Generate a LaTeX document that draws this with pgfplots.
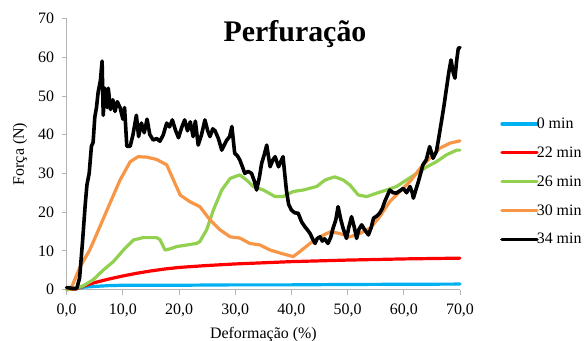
\documentclass[border=0pt]{standalone}
\usepackage{fontspec}
\setmainfont{Liberation Serif}
\usepackage{pgfplots}
\pgfplotsset{compat=1.18}
\definecolor{c0}{RGB}{0,176,240}
\definecolor{c22}{RGB}{255,0,0}
\definecolor{c26}{RGB}{146,208,80}
\definecolor{c30}{RGB}{247,150,70}
\definecolor{axgray}{RGB}{180,180,180}
\begin{document}
\begin{tikzpicture}
\path[use as bounding box] (0,0) rectangle (587bp,341bp);
\begin{axis}[
  at={(66.7bp,51.5bp)}, anchor=south west,
  scale only axis, width=393.3bp, height=271bp,
  xmin=0, xmax=70, ymin=0, ymax=70,
  xtick={0,10,...,70}, ytick={0,10,...,70},
  axis x line*=bottom, axis y line*=left,
  axis line style={draw=axgray, line width=0.8bp},
  tick style={draw=axgray, line width=0.8bp},
  tick align=outside, major tick length=5bp,
  /pgf/number format/assume math mode=true,
  tick label style={font=\fontsize{16}{19}\selectfont},
  xticklabel style={yshift=-6bp, /pgf/number format/.cd, fixed, fixed zerofill, precision=1, use comma, assume math mode=true},
  yticklabel style={xshift=-4bp, /pgf/number format/.cd, fixed, precision=0, assume math mode=true},
  xlabel={Deformação (\%)}, ylabel={Força (N)},
  label style={font=\fontsize{16}{19}\selectfont},
  xlabel style={at={(axis description cs:0.5,-0.18)}, anchor=base},
  ylabel style={at={(axis description cs:-0.1187,0.5)}, anchor=center, rotate=0},
  legend style={draw=none, fill=none, at={(1.1017,0.398)}, anchor=west,
    font=\fontsize{16}{19}\selectfont, inner sep=0pt, row sep=14.8bp, column sep=-3bp,
    nodes={inner sep=1bp}},
  legend cell align=left,
  legend image code/.code={\draw[#1] (0bp,0bp) -- (35bp,0bp);},
  every axis plot/.append style={line join=round, line cap=round},
  clip=false,
]
\addplot[c0, line width=3.2bp] coordinates {
(0,0) (1.5,0.1) (2,0.3) (3,0.6) (5,0.8) (7.5,1.0) (10,1.1) (15,1.1) (20,1.1) (30,1.2) (40,1.2) (50,1.3) (60,1.35) (70,1.4)};
\addlegendentry{0 min}
\addplot[c22, line width=3.2bp] coordinates {
(0,0) (1.5,0.1) (2,0.3) (3,0.9) (5,1.8) (7.5,2.7) (10,3.5) (12.5,4.2) (15,4.8) (17.5,5.3) (20,5.7) (25,6.2) (30,6.6) (35,6.9) (40,7.2) (50,7.6) (60,7.9) (70,8.1)};
\addlegendentry{22 min}
\addplot[c26, line width=3.2bp] coordinates {
(0,0) (1.8,0.3) (3,1.0) (4.7,2.5) (6.5,5.0) (8.3,7.2) (10.1,10.2) (11.9,12.8) (13.6,13.4) (16.0,13.4) (16.6,12.9) (17.5,10.2) (18.4,10.5) (19.6,11.1) (21.4,11.5) (23.1,11.9) (23.7,12.4) (24.9,15.4) (26.1,20.5) (27.6,25.7) (29.1,28.7) (30.8,29.6) (32.0,28.3) (33.2,26.6) (35.0,25.7) (37.1,24.0) (38.5,24.0) (40.3,25.3) (42.1,25.7) (44.5,26.6) (46.0,28.3) (47.7,29.1) (49.2,28.3) (50.4,27.0) (51.9,24.4) (53.4,24.0) (55.2,24.9) (56.9,25.7) (58.7,26.6) (60.5,28.3) (62.3,30.0) (64.1,31.7) (65.8,33.0) (67.6,34.8) (69.4,36.0) (70,36.0)};
\addlegendentry{26 min}
\addplot[c30, line width=3.2bp] coordinates {
(0,0.3) (0.9,0.7) (2.4,5.9) (4.1,10.2) (5.9,16.2) (7.7,22.3) (9.5,28.3) (11.3,33.0) (12.7,34.3) (14.2,34.2) (16.0,33.6) (17.8,32.2) (19.0,28.3) (20.2,24.4) (21.9,22.7) (23.7,21.4) (25.5,18.0) (27.3,15.4) (29.1,13.6) (30.8,13.3) (32.6,11.9) (34.4,11.5) (36.2,10.2) (38.0,9.4) (40.3,8.5) (41.5,9.8) (43.3,11.9) (45.1,13.6) (46.9,14.9) (48.5,14.5) (50.4,13.6) (52.2,14.5) (54.0,15.8) (55.7,18.8) (57.5,22.7) (59.3,25.3) (61.1,27.9) (62.9,31.3) (64.6,33.9) (66.4,36.5) (68.2,37.8) (70.0,38.4)};
\addlegendentry{30 min}
\addplot[black, line width=3.6bp] coordinates {
(0,0.5) (1.0,0.3) (1.8,0.3) (2.3,3) (2.8,12) (3.3,22) (3.6,27) (4.0,30) (4.4,37) (4.7,38) (5.0,44.5) (5.3,47) (5.6,51) (6.0,54) (6.3,59) (6.5,45) (6.8,52) (7.2,47) (7.4,52) (7.8,46.5) (8.2,49) (8.6,46) (9.0,48.5) (9.5,47) (10.0,44) (10.3,47) (10.7,37) (11.3,37) (11.8,40) (12.4,45) (12.8,39.5) (13.3,43) (13.8,40.5) (14.3,44) (14.8,40) (15.4,38.6) (16.0,39) (16.6,38.3) (17.2,40) (17.8,43) (18.3,42) (18.8,43.8) (19.4,41) (19.9,39.2) (20.5,42) (21.0,43.8) (21.5,41) (22.0,43.3) (22.5,39.5) (22.9,43.5) (23.4,37.3) (24.0,40) (24.6,43.8) (25.1,41) (25.5,39.5) (26.0,41.5) (26.4,41) (27.0,39) (27.6,36) (28.1,37.5) (28.5,38.6) (29.0,39.5) (29.4,42.1) (29.9,35.2) (30.4,34.5) (30.8,33.5) (31.2,32) (31.7,30) (32.3,30.5) (32.9,30) (33.4,28) (33.8,25.7) (34.3,29) (34.7,32.6) (35.2,35) (35.6,37.3) (36.2,31.7) (36.7,33.5) (37.1,34.3) (37.7,31.7) (38.1,33) (38.5,34.3) (39.1,25.7) (39.5,22) (40.0,20.5) (40.6,19.8) (41.2,19.7) (41.8,17.5) (42.4,16.2) (42.9,15.3) (43.3,14.5) (43.8,13) (44.2,11.9) (44.6,13.2) (45.1,13.6) (45.5,12.5) (45.9,13.1) (46.5,11.9) (47.0,13.5) (47.4,15.8) (47.9,18) (48.3,21.4) (48.8,18) (49.2,15.8) (49.8,13.2) (50.2,16) (50.7,18.8) (51.2,16) (51.6,13.2) (52.0,15.5) (52.5,16.7) (53.0,15.5) (53.7,14.1) (54.2,16) (54.6,18.4) (55.2,19) (55.7,19.7) (56.2,21) (56.6,22.7) (57.0,24) (57.5,25.7) (58.1,25) (58.7,24.9) (59.3,25.5) (59.9,26.1) (60.5,25) (61.1,26.6) (61.5,25) (61.7,23.6) (62.2,26) (62.6,27.9) (63.0,30) (63.4,32.2) (64.0,33.5) (64.6,36.9) (65.2,33.9) (65.8,35.6) (66.2,39) (66.7,43.4) (67.1,47) (67.6,52) (68.0,56) (68.4,59.3) (68.8,56) (69.1,54.6) (69.4,59) (69.7,62.3) (70.0,62.5)};
\addlegendentry{34 min}
\node[font=\bfseries\fontsize{30}{36}\selectfont, anchor=base] at (rel axis cs:0.5805,0.914) {Perfuração};
\end{axis}
\end{tikzpicture}
\end{document}
